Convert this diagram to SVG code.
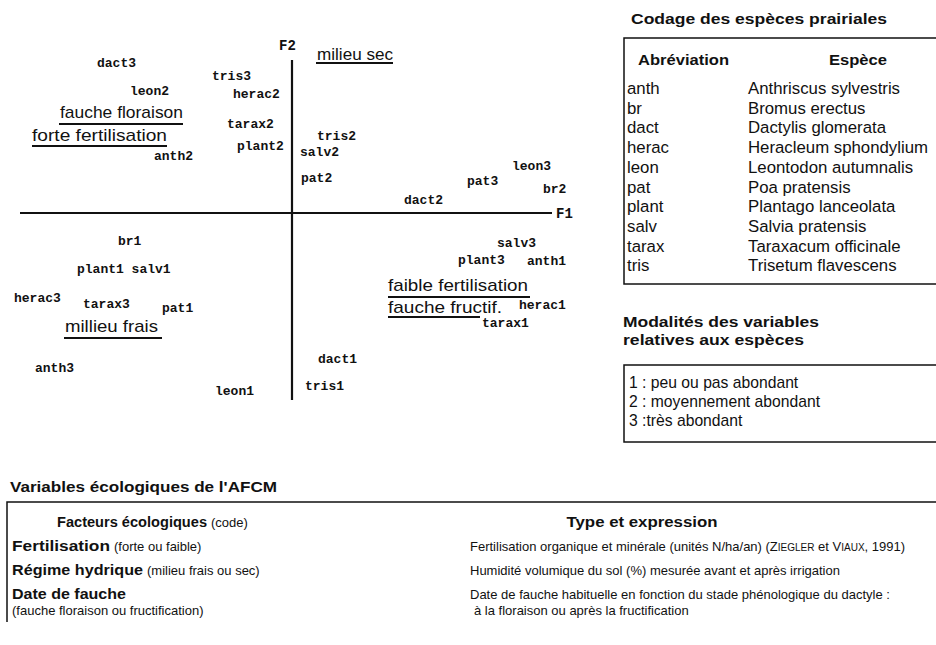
<svg xmlns="http://www.w3.org/2000/svg" width="936" height="645" viewBox="0 0 936 645">
<style>
.bg{fill:#fff}
.lbl{font-family:"Liberation Mono","DejaVu Sans Mono",monospace;font-size:13px;font-weight:bold;fill:#111}
.ax{font-family:"Liberation Mono","DejaVu Sans Mono",monospace;font-size:14px;font-weight:bold;fill:#111}
.mod{font-family:"Liberation Sans","Arial",sans-serif;font-size:17px;fill:#111}
.ul{stroke:#111;stroke-width:2;fill:none}
.axis{stroke:#111;stroke-width:2.2;fill:none}
.box{stroke:#111;stroke-width:1.5;fill:none}
.ttl{font-family:"Liberation Sans","Arial",sans-serif;font-size:15px;font-weight:bold;fill:#111}
.lg{font-family:"Liberation Sans","Arial",sans-serif;font-size:16.8px;fill:#111}
.lm{font-family:"Liberation Sans","Arial",sans-serif;font-size:15.7px;fill:#111}
.lgb{font-family:"Liberation Sans","Arial",sans-serif;font-size:15px;font-weight:bold;fill:#111}
.tb{font-family:"Liberation Sans","Arial",sans-serif;font-size:13px;fill:#111}
.tbb{font-family:"Liberation Sans","Arial",sans-serif;font-size:14.5px;font-weight:bold;fill:#111}
.sc{font-size:10px}
</style>
<rect class="bg" x="0" y="0" width="936" height="645"/>

<g id="axes">
  <line class="axis" x1="292" y1="60" x2="292" y2="400"/>
  <line class="axis" x1="20" y1="213" x2="552" y2="213"/>
  <text class="ax" x="279" y="50">F2</text>
  <text class="ax" x="556" y="218">F1</text>
</g>

<g id="connectors">
  <line class="ul" x1="316" y1="63" x2="393" y2="63"/>
  <line class="ul" x1="59" y1="124" x2="183" y2="124"/>
  <line class="ul" x1="32" y1="146" x2="167" y2="146"/>
  <line class="ul" x1="64" y1="338" x2="162" y2="338"/>
  <line class="ul" x1="388" y1="297" x2="530" y2="297"/>
  <line class="ul" x1="388" y1="317" x2="480" y2="317"/>
</g>

<g id="modality-labels">
  <g id="m-milieu-sec"><text class="mod" x="317" y="60" textLength="76" lengthAdjust="spacingAndGlyphs">milieu sec</text></g>
  <g id="m-fauche-floraison"><text class="mod" x="60" y="118" textLength="123" lengthAdjust="spacingAndGlyphs">fauche floraison</text></g>
  <g id="m-forte-fert"><text class="mod" x="32" y="141" textLength="135" lengthAdjust="spacingAndGlyphs">forte fertilisation</text></g>
  <g id="m-millieu-frais"><text class="mod" x="65" y="332" textLength="93" lengthAdjust="spacingAndGlyphs">millieu frais</text></g>
  <g id="m-faible-fert"><text class="mod" x="388" y="291" textLength="140" lengthAdjust="spacingAndGlyphs">faible fertilisation</text></g>
  <g id="m-fauche-fructif"><text class="mod" x="388" y="313" textLength="114" lengthAdjust="spacingAndGlyphs">fauche fructif.</text></g>
</g>

<g id="species-labels">
  <g id="dact3"><text class="lbl" x="97" y="67">dact3</text></g>
  <g id="tris3"><text class="lbl" x="212" y="80">tris3</text></g>
  <g id="leon2"><text class="lbl" x="130" y="95">leon2</text></g>
  <g id="herac2"><text class="lbl" x="233" y="98">herac2</text></g>
  <g id="tarax2"><text class="lbl" x="227" y="128">tarax2</text></g>
  <g id="plant2"><text class="lbl" x="237" y="150">plant2</text></g>
  <g id="anth2"><text class="lbl" x="154" y="160">anth2</text></g>
  <g id="tris2"><text class="lbl" x="317" y="140">tris2</text></g>
  <g id="salv2"><text class="lbl" x="300" y="156">salv2</text></g>
  <g id="pat2"><text class="lbl" x="301" y="182">pat2</text></g>
  <g id="leon3"><text class="lbl" x="512" y="170">leon3</text></g>
  <g id="pat3"><text class="lbl" x="467" y="185">pat3</text></g>
  <g id="br2"><text class="lbl" x="543" y="193">br2</text></g>
  <g id="dact2"><text class="lbl" x="404" y="204">dact2</text></g>
  <g id="br1"><text class="lbl" x="118" y="245">br1</text></g>
  <g id="plant1-salv1"><text class="lbl" x="77" y="273">plant1 salv1</text></g>
  <g id="herac3"><text class="lbl" x="14" y="302">herac3</text></g>
  <g id="tarax3"><text class="lbl" x="83" y="308">tarax3</text></g>
  <g id="pat1"><text class="lbl" x="162" y="312">pat1</text></g>
  <g id="anth3"><text class="lbl" x="35" y="372">anth3</text></g>
  <g id="leon1"><text class="lbl" x="215" y="395">leon1</text></g>
  <g id="salv3"><text class="lbl" x="497" y="247">salv3</text></g>
  <g id="plant3"><text class="lbl" x="458" y="264">plant3</text></g>
  <g id="anth1"><text class="lbl" x="527" y="265">anth1</text></g>
  <g id="herac1"><text class="lbl" x="519" y="309">herac1</text></g>
  <g id="tarax1"><text class="lbl" x="482" y="327">tarax1</text></g>
  <g id="dact1"><text class="lbl" x="318" y="363">dact1</text></g>
  <g id="tris1"><text class="lbl" x="305" y="390">tris1</text></g>
</g>

<g id="legend-species">
  <text class="ttl" x="631" y="24" textLength="256" lengthAdjust="spacingAndGlyphs">Codage des espèces prairiales</text>
  <rect class="box" x="624" y="38" width="330" height="246"/>
  <text class="lgb" x="638" y="65" textLength="91" lengthAdjust="spacingAndGlyphs">Abréviation</text>
  <text class="lgb" x="858" y="65" text-anchor="middle" textLength="58" lengthAdjust="spacingAndGlyphs">Espèce</text>
  <g class="lg">
    <text x="627" y="94">anth</text><text x="748" y="94">Anthriscus sylvestris</text>
    <text x="627" y="113.7">br</text><text x="748" y="113.7">Bromus erectus</text>
    <text x="627" y="133.4">dact</text><text x="748" y="133.4">Dactylis glomerata</text>
    <text x="627" y="153.1">herac</text><text x="748" y="153.1">Heracleum sphondylium</text>
    <text x="627" y="172.8">leon</text><text x="748" y="172.8">Leontodon autumnalis</text>
    <text x="627" y="192.5">pat</text><text x="748" y="192.5">Poa pratensis</text>
    <text x="627" y="212.2">plant</text><text x="748" y="212.2">Plantago lanceolata</text>
    <text x="627" y="231.9">salv</text><text x="748" y="231.9">Salvia pratensis</text>
    <text x="627" y="251.6">tarax</text><text x="748" y="251.6">Taraxacum officinale</text>
    <text x="627" y="271.3">tris</text><text x="748" y="271.3">Trisetum flavescens</text>
  </g>
</g>

<g id="legend-modalites">
  <text class="ttl" x="623" y="327" textLength="196" lengthAdjust="spacingAndGlyphs">Modalités des variables</text>
  <text class="ttl" x="623" y="345" textLength="181" lengthAdjust="spacingAndGlyphs">relatives aux espèces</text>
  <rect class="box" x="624" y="365" width="330" height="77"/>
  <g class="lm">
    <text x="629" y="388">1 : peu ou pas abondant</text>
    <text x="629" y="407">2 : moyennement abondant</text>
    <text x="629" y="426">3 :très abondant</text>
  </g>
</g>

<g id="table-variables">
  <text class="ttl" x="10" y="492" textLength="267" lengthAdjust="spacingAndGlyphs">Variables écologiques de l'AFCM</text>
  <path class="box" d="M7,622 V502 H936"/>
  <text x="57" y="527" class="tbb" textLength="150" lengthAdjust="spacingAndGlyphs">Facteurs écologiques</text>
  <text x="211" y="527" class="tb">(code)</text>
  <text x="642" y="527" class="tbb" text-anchor="middle" textLength="151" lengthAdjust="spacingAndGlyphs">Type et expression</text>

  <text x="12" y="551" class="tbb" textLength="98" lengthAdjust="spacingAndGlyphs">Fertilisation</text>
  <text x="114" y="551" class="tb">(forte ou faible)</text>
  <text x="470" y="551" class="tb">Fertilisation organique et minérale (unités N/ha/an) (Z<tspan class="sc">IEGLER</tspan> et V<tspan class="sc">IAUX</tspan>, 1991)</text>

  <text x="12" y="575" class="tbb" textLength="131" lengthAdjust="spacingAndGlyphs">Régime hydrique</text>
  <text x="147" y="575" class="tb">(milieu frais ou sec)</text>
  <text x="470" y="575" class="tb">Humidité volumique du sol (%) mesurée avant et après irrigation</text>

  <text x="12" y="599" class="tbb" textLength="114" lengthAdjust="spacingAndGlyphs">Date de fauche</text>
  <text x="12" y="615" class="tb">(fauche floraison ou fructification)</text>
  <text x="470" y="599" class="tb">Date de fauche habituelle en fonction du stade phénologique du dactyle :</text>
  <text x="474" y="615" class="tb">à la floraison ou après la fructification</text>
</g>
</svg>
